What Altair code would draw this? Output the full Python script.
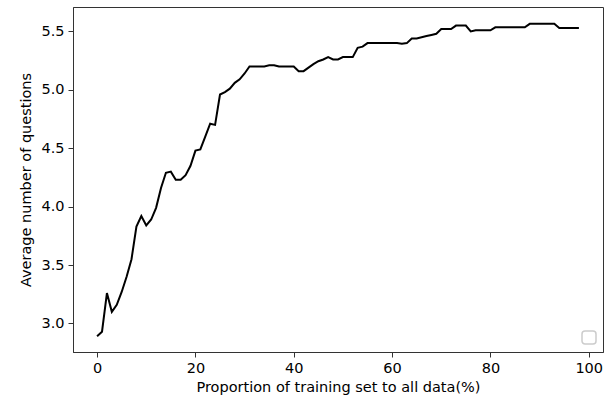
import altair as alt
import pandas as pd

proportion = list(range(0, 99))
avg_questions = [
    2.89, 2.93, 3.26, 3.10, 3.16, 3.27, 3.40, 3.55, 3.83, 3.92,
    3.84, 3.89, 3.99, 4.16, 4.29, 4.30, 4.23, 4.23, 4.27, 4.35,
    4.48, 4.49, 4.60, 4.71, 4.70, 4.96, 4.98, 5.01, 5.06, 5.09,
    5.14, 5.20, 5.20, 5.20, 5.20, 5.21, 5.21, 5.20, 5.20, 5.20,
    5.20, 5.16, 5.16, 5.19, 5.22, 5.245, 5.26, 5.28, 5.26, 5.26,
    5.28, 5.28, 5.28, 5.36, 5.37, 5.40, 5.40, 5.40, 5.40, 5.40,
    5.40, 5.40, 5.395, 5.40, 5.44, 5.44, 5.45, 5.46, 5.47, 5.48,
    5.52, 5.52, 5.52, 5.55, 5.55, 5.55, 5.50, 5.51, 5.51, 5.51,
    5.51, 5.535, 5.535, 5.535, 5.535, 5.535, 5.535, 5.535, 5.565, 5.565,
    5.565, 5.565, 5.565, 5.565, 5.53, 5.53, 5.53, 5.53, 5.53,
]
x_ticks = [0, 20, 40, 60, 80, 100]
y_ticks = [3.0, 3.5, 4.0, 4.5, 5.0, 5.5]

df = pd.DataFrame({"p": proportion, "q": avg_questions})

FONT = "DejaVu Sans"
AX = "#333333"
FS = 14.5

line = alt.Chart(df).mark_line(color="black", strokeWidth=2).encode(
    x=alt.X(
        "p:Q",
        scale=alt.Scale(domain=[-4.9, 102.9], nice=False, zero=False),
        axis=alt.Axis(
            values=x_ticks,
            title="Proportion of training set to all data(%)",
            format="d",
        ),
    ),
    y=alt.Y(
        "q:Q",
        scale=alt.Scale(domain=[2.756, 5.709], nice=False, zero=False),
        axis=alt.Axis(
            values=y_ticks,
            title="Average number of questions",
            format=".1f",
        ),
    ),
)

legend_box = alt.Chart(pd.DataFrame({"a": [0]})).mark_rect(
    fill="white", stroke="#cccccc", strokeWidth=1.5, cornerRadius=3
).encode(
    x=alt.value(509), x2=alt.value(523), y=alt.value(324), y2=alt.value(337)
)

chart = (
    alt.layer(line, legend_box)
    .properties(
        width=530,
        height=345,
        autosize=alt.AutoSizeParams(type="none"),
        padding={"left": 73, "top": 7, "right": 11, "bottom": 52},
    )
    .configure_view(stroke=AX, strokeWidth=1)
    .configure_axis(
        grid=False,
        domainColor=AX,
        domainWidth=1,
        tickColor=AX,
        tickWidth=1,
        tickSize=5,
        labelFont=FONT,
        labelFontSize=FS,
        labelColor="black",
        labelPadding=4,
        titleFont=FONT,
        titleFontSize=FS,
        titleFontWeight="normal",
        titleColor="black",
    )
    .configure_axisX(titlePadding=6)
    .configure_axisY(titlePadding=7)
)

chart.save("out.html", embed_options={"renderer": "svg", "actions": False})
